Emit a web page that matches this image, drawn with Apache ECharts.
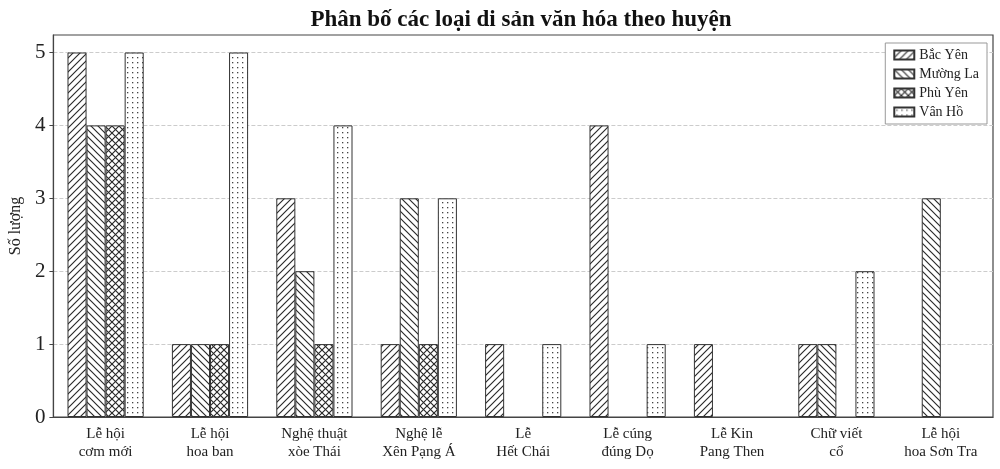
<!DOCTYPE html>
<html lang="vi">
<head>
    <meta charset="UTF-8">
    <title>Phân bố các loại di sản văn hóa theo huyện</title>
    <style>
        html, body { margin: 0; padding: 0; background: #fff; }
        #chart { width: 1000px; height: 469px; }
    </style>
</head>
<body>
<div id="chart"></div>

<script src="https://cdn.jsdelivr.net/npm/echarts@6.0.0/dist/echarts.min.js"></script>
<script>
    // categories and counts per district
    const categories = ['Lễ hội\ncơm mới', 'Lễ hội\nhoa ban', 'Nghệ thuật\nxòe Thái', 'Nghệ lễ\nXên Pạng Á',
        'Lễ\nHết Chái', 'Lễ cúng\nđúng Dọ', 'Lễ Kin\nPang Then', 'Chữ viết\ncổ', 'Lễ hội\nhoa Sơn Tra'];
    const districts = ['Bắc Yên', 'Mường La', 'Phù Yên', 'Vân Hồ'];
    const bacYen = [5, 1, 3, 1, 1, 4, 1, 1, 0];
    const muongLa = [4, 1, 2, 3, 0, 0, 0, 1, 3];
    const phuYen = [4, 1, 1, 1, 0, 0, 0, 0, 0];
    const vanHo = [5, 5, 4, 3, 1, 1, 0, 2, 0];
    const yTicks = [0, 1, 2, 3, 4, 5];

    const FONT = "'Liberation Serif', 'Times New Roman', serif";
    const INK = '#222';

    // hatch tiles, drawn on small canvases and used as repeat patterns
    function makePattern(kind) {
        let s = kind === 'dots' ? 5 : 7;
        let c = document.createElement('canvas');
        c.width = s;
        c.height = s;
        let g = c.getContext('2d');
        g.fillStyle = '#fff';
        g.fillRect(0, 0, s, s);
        g.strokeStyle = '#2a2a2a';
        g.fillStyle = '#444';
        g.lineWidth = 1.15;
        function fwd() {
            g.beginPath();
            g.moveTo(-1, s + 1); g.lineTo(s + 1, -1);
            g.moveTo(-1, 1); g.lineTo(1, -1);
            g.moveTo(s - 1, s + 1); g.lineTo(s + 1, s - 1);
            g.stroke();
        }
        function back() {
            g.beginPath();
            g.moveTo(-1, -1); g.lineTo(s + 1, s + 1);
            g.moveTo(s - 1, -1); g.lineTo(s + 1, 1);
            g.moveTo(-1, s - 1); g.lineTo(1, s + 1);
            g.stroke();
        }
        if (kind === 'fwd') fwd();
        if (kind === 'back') back();
        if (kind === 'cross') { fwd(); back(); }
        if (kind === 'dots') g.fillRect(2, 2, 1.3, 1.3);
        return { image: c, repeat: 'repeat' };
    }

    const patterns = [makePattern('fwd'), makePattern('back'), makePattern('cross'), makePattern('dots')];
    const values = [bacYen, muongLa, phuYen, vanHo];

    let chart = echarts.init(document.getElementById('chart'));

    let option = {
        backgroundColor: '#fff',
        animation: false,
        title: {
            text: 'Phân bố các loại di sản văn hóa theo huyện',
            left: 516,
            textAlign: 'center',
            top: 4,
            textStyle: { fontFamily: FONT, fontSize: 23, fontWeight: 'bold', color: '#111' }
        },
        legend: {
            data: districts,
            orient: 'vertical',
            right: 13,
            top: 43,
            itemWidth: 20,
            itemHeight: 9,
            itemGap: 5,
            icon: 'rect',
            padding: [5, 8, 5, 8],
            borderColor: '#999',
            borderWidth: 1,
            backgroundColor: '#fff',
            textStyle: { fontFamily: FONT, fontSize: 14, color: INK }
        },
        grid: {
            left: 42,
            right: 7,
            top: 35,
            bottom: 52,
            show: true,
            borderColor: '#444',
            borderWidth: 1.2,
            containLabel: false
        },
        xAxis: {
            type: 'category',
            data: categories,
            axisLine: { lineStyle: { color: '#444', width: 1.2 } },
            axisTick: { show: false },
            axisLabel: {
                interval: 0,
                margin: 8,
                fontFamily: FONT,
                fontSize: 15,
                lineHeight: 18,
                color: INK
            }
        },
        yAxis: {
            type: 'value',
            name: 'Số lượng',
            nameLocation: 'middle',
            nameGap: 25,
            nameTextStyle: { fontFamily: FONT, fontSize: 16, color: INK },
            min: 0,
            max: 5.24,
            interval: 1,
            axisLine: { show: true, lineStyle: { color: '#444', width: 1.2 } },
            axisTick: { show: true, length: 4, lineStyle: { color: '#444' }, customValues: yTicks },
            axisLabel: {
                customValues: yTicks,
                margin: 8,
                fontFamily: FONT,
                fontSize: 21,
                color: INK
            },
            splitLine: { lineStyle: { color: '#ccc', type: 'dashed', width: 1 } }
        },
        series: districts.map((name, i) => ({
            name: name,
            type: 'bar',
            // zero counts get no outline so no stray line sits on the axis
            data: values[i].map(v => v === 0 ? { value: v, itemStyle: { borderWidth: 0 } } : v),
            barGap: '0%',
            barCategoryGap: '27%',
            itemStyle: { color: patterns[i], borderColor: '#333', borderWidth: 1 }
        }))
    };

    chart.setOption(option);
</script>
</body>
</html>
